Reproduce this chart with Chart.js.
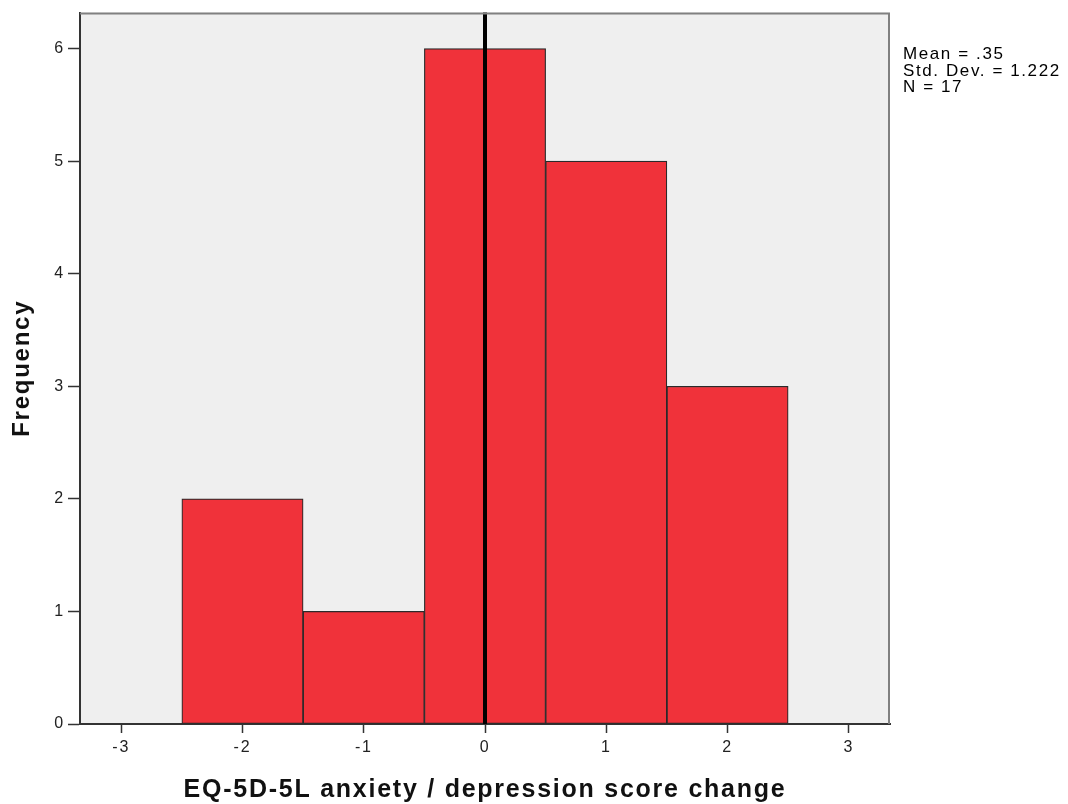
<!DOCTYPE html>
<html>
<head>
<meta charset="utf-8">
<script src="https://cdn.jsdelivr.net/npm/chart.js@4/dist/chart.umd.min.js"></script>
<style>
  html, body { margin: 0; padding: 0; background: #ffffff; }
  #wrap { position: relative; width: 1068px; height: 804px; }
  #stats {
    position: absolute; left: 903px; top: 46px;
    font-family: "Liberation Sans", Arial, sans-serif; font-size: 17px;
    line-height: 16.5px; letter-spacing: 1.6px; color: #000; white-space: pre;
  }
</style>
</head>
<body>
<div id="wrap">
  <canvas id="c" width="1068" height="804"></canvas>
  <div id="stats">Mean = .35
Std. Dev. = 1.222
N = 17</div>
</div>
<script>
// Histogram bin centres and frequencies
const binCenters = [-2, -1, 0, 1, 2];
const frequencies = [2, 1, 6, 5, 3];
const xTickValues = [-3, -2, -1, 0, 1, 2, 3];
const yTickValues = [0, 1, 2, 3, 4, 5, 6];
const referenceX = 0;
const xTitle = "EQ-5D-5L anxiety / depression score change";
const yTitle = "Frequency";

const xMin = -3.34, xMax = 3.34, yMin = 0, yMax = 6.32;

const barData = binCenters.map((x, i) => ({ x: x, y: frequencies[i] }));
const refLine = [{ x: referenceX, y: yMin }, { x: referenceX, y: yMax }];

const bgPlugin = {
  id: 'bg',
  beforeDraw(chart) {
    const { ctx, chartArea: a } = chart;
    ctx.save();
    ctx.fillStyle = '#efefef';
    ctx.fillRect(a.left, a.top, a.right - a.left, a.bottom - a.top);
    ctx.restore();
    ctx.letterSpacing = '1.75px';
  },
  afterDraw(chart) {
    const { ctx, chartArea: a } = chart;
    ctx.letterSpacing = '0px';
    ctx.save();
    ctx.strokeStyle = '#808080';
    ctx.lineWidth = 2;
    ctx.beginPath();
    ctx.moveTo(a.left, a.top + 1);
    ctx.lineTo(a.right - 1, a.top + 1);
    ctx.lineTo(a.right - 1, a.bottom);
    ctx.stroke();
    ctx.restore();
  }
};

new Chart(document.getElementById('c'), {
  data: {
    datasets: [
      {
        type: 'line',
        data: refLine,
        borderColor: '#000000',
        borderWidth: 4,
        pointRadius: 0,
        order: 0,
        clip: false
      },
      {
        type: 'bar',
        data: barData,
        backgroundColor: '#f0323a',
        borderColor: '#2a2a2a',
        borderWidth: 1.2,
        borderSkipped: false,
        barPercentage: 1,
        categoryPercentage: 1,
        order: 1
      }
    ]
  },
  options: {
    responsive: false,
    animation: false,
    devicePixelRatio: 1,
    layout: { padding: { left: 0, top: 10, right: 178, bottom: 0 } },
    plugins: { legend: { display: false }, tooltip: { enabled: false } },
    scales: {
      x: {
        type: 'linear',
        offset: false,
        min: xMin, max: xMax,
        afterBuildTicks(scale) { scale.ticks = xTickValues.map(v => ({ value: v })); },
        afterFit(scale) { scale.height = 80; },
        grid: { display: true, offset: false, drawOnChartArea: false, drawTicks: true, tickLength: 9, color: '#333333', tickWidth: 1.5 },
        border: { display: true, color: '#333333', width: 2 },
        ticks: {
          color: '#222222', padding: 5, maxRotation: 0, autoSkip: false,
          font: { family: '"Liberation Sans", Arial, sans-serif', size: 16 }
        },
        title: {
          display: true, text: xTitle, color: '#111111',
          font: { family: '"Liberation Sans", Arial, sans-serif', size: 25, weight: 'bold' },
          padding: { top: 0, bottom: -1 }
        }
      },
      y: {
        type: 'linear',
        min: yMin, max: yMax,
        afterBuildTicks(scale) { scale.ticks = yTickValues.map(v => ({ value: v })); },
        afterFit(scale) { scale.width = 80; },
        grid: { display: true, drawOnChartArea: false, drawTicks: true, tickLength: 12, color: '#333333', tickWidth: 1.5 },
        border: { display: true, color: '#333333', width: 2 },
        ticks: {
          color: '#222222', padding: 3,
          font: { family: '"Liberation Sans", Arial, sans-serif', size: 16 }
        },
        title: {
          display: true, text: yTitle, color: '#111111',
          font: { family: '"Liberation Sans", Arial, sans-serif', size: 24, weight: 'bold' },
          padding: { top: 8, bottom: 0 }
        }
      }
    }
  },
  plugins: [bgPlugin]
});
</script>
</body>
</html>
